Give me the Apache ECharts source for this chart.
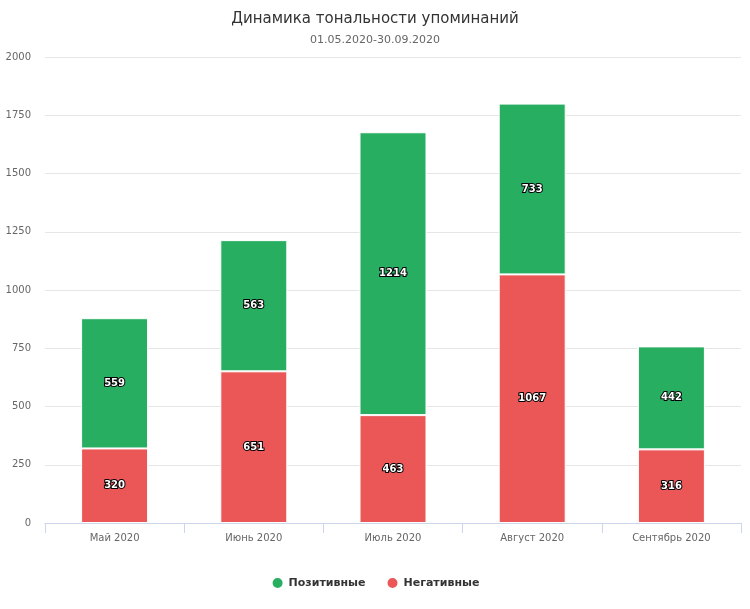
<!DOCTYPE html>
<html>
<head>
<meta charset="utf-8">
<script src="https://cdn.jsdelivr.net/npm/echarts@6/dist/echarts.min.js"></script>
<style>
  html, body { margin: 0; padding: 0; background: #fff; }
  #chart { width: 750px; height: 609px; }
</style>
</head>
<body>
<div id="chart"></div>
<script>
// месяцы
const months = ['Май 2020', 'Июнь 2020', 'Июль 2020', 'Август 2020', 'Сентябрь 2020']
// позитивные упоминания
const positive = [559, 563, 1214, 733, 442]
// негативные упоминания
const negative = [320, 651, 463, 1067, 316]

const font = 'Verdana, "DejaVu Sans", sans-serif'

const labelStyle = {
  show: true,
  position: 'inside',
  color: '#fff',
  fontSize: 10,
  fontWeight: 'bold',
  fontFamily: font,
  textBorderColor: '#000',
  textBorderWidth: 2
}

const chart = echarts.init(document.getElementById('chart'))
chart.setOption({
  animation: false,
  title: {
    text: 'Динамика тональности упоминаний',
    subtext: '01.05.2020-30.09.2020',
    left: 'center',
    top: 7,
    itemGap: 8,
    textStyle: { fontFamily: font, fontSize: 15, fontWeight: 'normal', color: '#333' },
    subtextStyle: { fontFamily: font, fontSize: 11, color: '#666' }
  },
  legend: {
    data: ['Позитивные', 'Негативные'],
    bottom: 14,
    icon: 'circle',
    itemWidth: 12,
    itemHeight: 12,
    itemGap: 20,
    textStyle: { fontFamily: font, fontSize: 11, fontWeight: 'bold', color: '#333' }
  },
  grid: { left: 45, right: 9, top: 57, bottom: 86 },
  xAxis: {
    type: 'category',
    data: months,
    axisLine: { lineStyle: { color: '#ccd6eb' } },
    axisTick: { show: true, length: 10, lineStyle: { color: '#ccd6eb' } },
    axisLabel: { fontFamily: font, fontSize: 10, color: '#666', margin: 10 }
  },
  yAxis: {
    type: 'value',
    min: 0,
    max: 2000,
    interval: 250,
    axisLine: { show: false },
    axisTick: { show: false },
    axisLabel: { fontFamily: font, fontSize: 10, color: '#666', margin: 14, formatter: v => String(v) },
    splitLine: { lineStyle: { color: '#e6e6e6' } }
  },
  series: [
    {
      name: 'Негативные',
      type: 'bar',
      stack: 'total',
      barWidth: 67,
      data: negative,
      itemStyle: { color: '#eb5757', borderColor: '#fff', borderWidth: 1 },
      label: labelStyle
    },
    {
      name: 'Позитивные',
      type: 'bar',
      stack: 'total',
      barWidth: 67,
      data: positive,
      itemStyle: { color: '#27ae60', borderColor: '#fff', borderWidth: 1 },
      label: labelStyle
    }
  ]
})
</script>
</body>
</html>
